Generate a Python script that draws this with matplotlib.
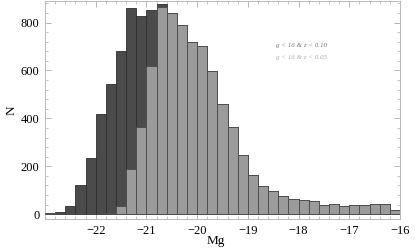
import matplotlib
matplotlib.use("Agg")
import matplotlib.pyplot as plt
import numpy as np
from matplotlib.ticker import MultipleLocator, FixedLocator

# Bin edges start (Mg), bin width 0.2
bin_start = -23.0
bin_width = 0.2
# Counts: g<16 & z<0.10 (dark)
dark = [5, 10, 36, 123, 236, 420, 543, 681, 859, 828, 851, 879, 838, 791, 719,
        702, 599, 459, 364, 246, 165, 119, 95, 74, 64, 59, 54, 37, 43, 33, 37,
        37, 42, 42, 17]
# Counts: g<16 & z<0.05 (light)
light = [5, 0, 0, 0, 0, 0, 7, 35, 190, 364, 620, 863, 838, 791, 719,
         702, 599, 459, 364, 246, 165, 119, 95, 74, 64, 59, 54, 37, 43, 33, 37,
         37, 42, 42, 17]
xticks = [-22, -21, -20, -19, -18, -17, -16]
yticks = [0, 200, 400, 600, 800]
legend_labels = ["g < 16 & z < 0.10", "g < 16 & z < 0.05"]

plt.rcParams['font.family'] = ['Liberation Serif', 'DejaVu Serif']

fig = plt.figure(figsize=(4.15, 2.49), dpi=100)
ax = fig.add_axes([45/415, 1-219/249, 355/415, 218/249])

left = bin_start + bin_width*np.arange(len(dark))
ax.bar(left, dark, width=bin_width, align='edge', color='#4b4b4b',
       edgecolor='#2e2e2e', linewidth=0.6, zorder=2)
ax.bar(left, light, width=bin_width, align='edge', color='#9b9b9b',
       edgecolor='#4a4a4a', linewidth=0.6, zorder=3)

ax.set_xlim(-23, -16)
ax.set_ylim(-20, 890)
ax.xaxis.set_major_locator(FixedLocator(xticks))
ax.xaxis.set_minor_locator(MultipleLocator(0.2))
ax.yaxis.set_major_locator(FixedLocator(yticks))
ax.yaxis.set_minor_locator(MultipleLocator(40))
ax.tick_params(which='both', direction='in', top=True, right=True,
               color='#aaaaaa', labelsize=9, pad=4)
ax.tick_params(which='major', length=4, width=0.6)
ax.tick_params(which='minor', length=2, width=0.5)
for s in ax.spines.values():
    s.set_color('#bbbbbb')
    s.set_linewidth(0.7)

fig.text(216/415, 1-241/249, "Mg", fontsize=9.5, ha='center', va='center')
fig.text(12/415, 1-110/249, "N", fontsize=9.5, ha='center', va='center',
         rotation=90)

fig.text(276/415, 1-46/249, legend_labels[0], fontsize=5, style='italic',
         color='#777777', va='center', ha='left')
fig.text(276/415, 1-58/249, legend_labels[1], fontsize=5, style='italic',
         color='#aaaaaa', va='center', ha='left')

fig.savefig("out.png", dpi=100)
